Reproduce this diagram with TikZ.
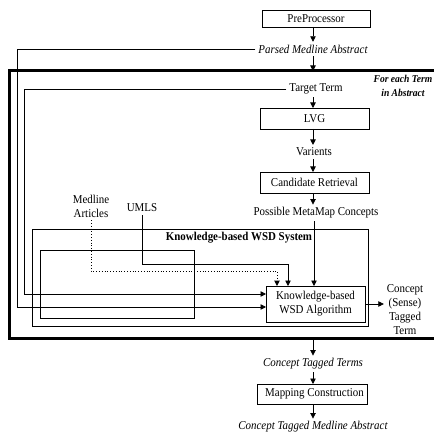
\documentclass[tikz,border=0pt]{standalone}
\usepackage{fontspec}
\setmainfont{Liberation Serif}[FakeStretch=0.91]
\usetikzlibrary{arrows.meta}
\begin{document}
\begin{tikzpicture}[x=1pt,y=1pt,
  every node/.style={font=\fontsize{12}{14}\selectfont, inner sep=0pt, outer sep=0pt},
  box/.style={draw, line width=0.9pt},
  frame/.style={draw, line width=0.8pt},
  txt/.style={align=center, inner xsep=3pt, inner ysep=3pt},
  itxt/.style={txt, font=\fontsize{12}{14}\selectfont\itshape},
  link/.style={line width=0.8pt},
  arr/.style={link, -{Triangle[length=5.5pt,width=5.5pt]}},
  dotarr/.style={arr, dotted, line width=1pt}]
\useasboundingbox (0,0) rectangle (434,432);

% outer loop over the terms of one abstract
\node[draw, line width=3pt, minimum width=436pt, minimum height=267pt] (loop) at (227,432-204.5) {};
\node[align=center, font=\fontsize{10.5}{14}\selectfont\bfseries\itshape] (each) at (403,432-86) {For each Term\\in Abstract};

% main column
\node[box, minimum width=108pt, minimum height=17pt] (pre) at (316,432-18.5) {PreProcessor};
\node[itxt] (parsed) at (313,432-49) {Parsed Medline Abstract};
\node[txt] (tt) at (316,432-89) {Target Term};
\node[box, minimum width=109pt, minimum height=21pt] (lvg) at (314.5,432-118.5) {LVG};
\node[txt] (var) at (314,432-152) {Varients};
\node[box, minimum width=109pt, minimum height=21pt] (cand) at (314.5,432-182.5) {Candidate Retrieval};
\node[txt] (pmc) at (316,432-213) {Possible MetaMap Concepts};

% knowledge sources
\node[txt] (med) at (91,432-206) {Medline\\Articles};
\node[txt] (umls) at (142,432-208) {UMLS};

% WSD system
\node[frame, minimum width=336pt, minimum height=97pt] (sys) at (200,432-277.5) {};
\node[font=\fontsize{12}{14}\selectfont\bfseries] (syslbl) at (239,432-238) {Knowledge-based WSD System};
\node[frame, minimum width=154pt, minimum height=68pt] (inner) at (117,432-284) {};
\node[box, fill=white, minimum width=99pt, minimum height=36pt, align=center] (algo) at (315.5,432-304) {Knowledge-based\\WSD Algorithm};
\node[txt] (cst) at (405,432-310) {Concept\\(Sense)\\Tagged\\Term};

% output column
\node[itxt] (ctt) at (313,432-364) {Concept Tagged Terms};
\node[box, minimum width=110pt, minimum height=20pt] (map) at (312,432-394) {\hspace*{5pt}Mapping Construction};
\node[itxt] (ctma) at (313,432-427) {Concept Tagged Medline Abstract};

% bend points of the connectors
\coordinate (col)  at (313,0);
\coordinate (colb) at (314,0);
\coordinate (pin)  at (17,432-307);
\coordinate (tin)  at (24,432-294);
\coordinate (uend) at (288,432-264);
\coordinate (mend) at (277,432-271);

% connectors along the column
\draw[arr] (pre.south -| col) -- (parsed.north -| col);
\draw[arr] (parsed.south -| col) -- (loop.north -| col);
\draw[arr] (tt.south -| col) -- (lvg.north -| col);
\draw[arr] (lvg.south -| col) -- (var.north -| col);
\draw[arr] (var.south -| col) -- (cand.north -| col);
\draw[arr] (cand.south -| col) -- (pmc.north -| col);
\draw[arr] (pmc.south -| colb) -- (algo.north -| colb);

% inputs from the left and from the knowledge sources
\draw[arr] (parsed.west) -| (pin) -- (pin -| algo.west);
\draw[arr] (tt.west) -| (tin) -- (tin -| algo.west);
\draw[arr] (umls.south) |- (uend) -- (uend |- algo.north);
\draw[dotarr] (med.south) |- (mend) -- (mend |- algo.north);

% output of the algorithm
\draw[arr] (algo.east) -- (algo.east -| cst.west);

% after the loop
\draw[arr] (loop.south -| col) -- (ctt.north -| col);
\draw[arr] (ctt.south -| col) -- (map.north -| col);
\draw[arr] (map.south -| col) -- (ctma.north -| col);
\end{tikzpicture}
\end{document}
